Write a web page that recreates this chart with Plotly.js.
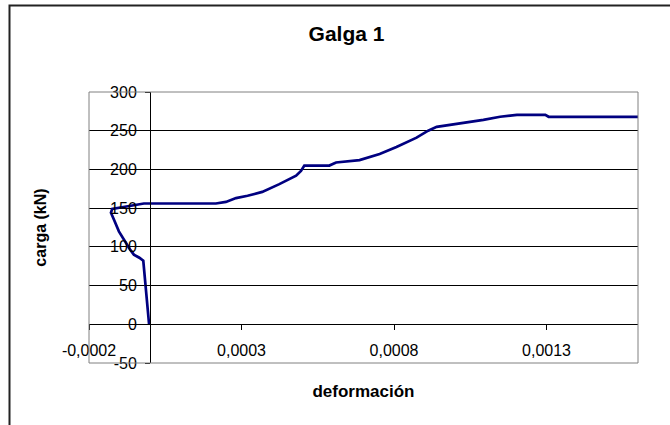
<!DOCTYPE html>
<html>
<head>
<meta charset="utf-8">
<script src="https://cdn.plot.ly/plotly-3.0.1.min.js"></script>
<style>
html,body{margin:0;padding:0;background:#fff;}
#chart{width:670px;height:425px;}
</style>
</head>
<body>
<div id="chart"></div>
<script>
// Data
var deformacion = [
  -0.000003, -0.000006, -0.000009, -0.000015, -0.000022, -0.000035, -0.000053,
  -0.000066, -0.000088, -0.000102, -0.000117, -0.000128, -0.000124, -0.000060,
  -0.000037, -0.000020, 0.000216, 0.000235, 0.000249, 0.000282, 0.000320,
  0.000368, 0.000424, 0.000479, 0.000495, 0.000506, 0.000588, 0.000610,
  0.000687, 0.000753, 0.000808, 0.000874, 0.000912, 0.000940, 0.001005,
  0.001050, 0.001093, 0.001148, 0.001203, 0.001296, 0.001307, 0.001600
];
var carga = [
  0, 13, 30, 60, 82, 86, 90,
  97, 110, 120, 134, 144, 149, 153,
  155, 156, 156, 157, 158, 163, 166,
  171, 181, 192, 198, 205, 205, 209,
  212, 220, 229, 241, 250, 255, 259,
  261, 264, 268, 270.5, 270.5, 268, 268
];
var xTickVals = [-0.0002, 0.0003, 0.0008, 0.0013];
var xTickText = ["-0,0002", "0,0003", "0,0008", "0,0013"];
var yTickVals = [-50, 0, 50, 100, 150, 200, 250, 300];
var yTickText = ["-50", "0", "50", "100", "150", "200", "250", "300"];
var xRange = [-0.0002, 0.0016];
var yRange = [-50, 300];

var W = 670, H = 425;
var M = {l: 89, r: 32, t: 92, b: 62};
var pw = W - M.l - M.r, ph = H - M.t - M.b;
function px2fx(p) { return (p - M.l) / pw; }
function py2fy(p) { return (H - M.b - p) / ph; }

var FONT = '"Liberation Sans", Arial, sans-serif';

var trace = {
  x: deformacion,
  y: carga,
  type: 'scatter',
  mode: 'lines',
  line: {color: '#000080', width: 2.7},
  hoverinfo: 'x+y'
};

var layout = {
  width: W, height: H,
  margin: M,
  paper_bgcolor: '#fff',
  plot_bgcolor: '#fff',
  showlegend: false,
  font: {family: FONT, color: '#000', size: 16},
  title: {
    text: '<b>Galga 1</b>',
    font: {family: FONT, size: 21, color: '#000'},
    xref: 'container', yref: 'container',
    x: 346.5 / W, y: 1 - 34 / H,
    xanchor: 'center', yanchor: 'middle'
  },
  xaxis: {
    range: xRange,
    anchor: 'free',
    position: (0 - yRange[0]) / (yRange[1] - yRange[0]),
    showline: true, linecolor: '#000', linewidth: 1,
    showgrid: false, zeroline: false,
    tickmode: 'array', tickvals: xTickVals, ticktext: xTickText,
    ticks: 'outside', ticklen: 5, tickcolor: '#000', tickwidth: 1,
    ticklabelstandoff: 7,
    tickfont: {family: FONT, size: 16, color: '#000'},
    title: {text: '<b>deformación</b>', font: {family: FONT, size: 17, color: '#000'}, standoff: 26}
  },
  yaxis: {
    range: yRange,
    anchor: 'free',
    position: (0 - xRange[0]) / (xRange[1] - xRange[0]),
    showline: true, linecolor: '#000', linewidth: 1,
    showgrid: true, gridcolor: '#000', gridwidth: 1,
    zeroline: false,
    tickmode: 'array', tickvals: yTickVals, ticktext: yTickText,
    ticks: 'outside', ticklen: 5, tickcolor: '#000', tickwidth: 1,
    ticklabelstandoff: 5,
    tickfont: {family: FONT, size: 16, color: '#000'},
    title: {text: '<b>carga (kN)</b>', font: {family: FONT, size: 16, color: '#000'}, standoff: 58}
  },
  shapes: [
    {type: 'rect', xref: 'paper', yref: 'paper', x0: 0, x1: 1, y0: 0, y1: 1,
     line: {color: '#808080', width: 1}, layer: 'above'},
    {type: 'path', xref: 'paper', yref: 'paper',
     path: 'M ' + px2fx(9.5) + ' ' + py2fy(430) + ' L ' + px2fx(9.5) + ' ' + py2fy(5.5) +
           ' L ' + px2fx(675) + ' ' + py2fy(5.5),
     line: {color: '#222', width: 2}, layer: 'above'}
  ]
};

Plotly.newPlot('chart', [trace], layout, {staticPlot: true, displayModeBar: false});
</script>
</body>
</html>
